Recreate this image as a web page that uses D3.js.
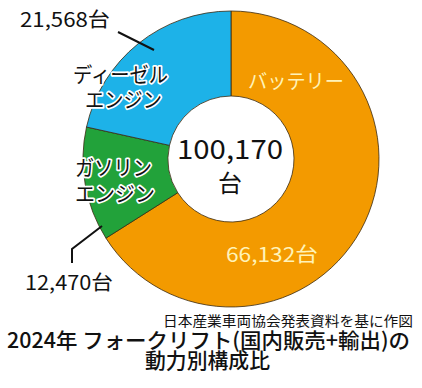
<!DOCTYPE html>
<html>
<head>
<meta charset="utf-8">
<script src="https://cdn.jsdelivr.net/npm/d3@7"></script>
<style>
  html, body { margin: 0; padding: 0; background: #fff; }
  svg { display: block; font-family: "Noto Sans CJK JP", "Noto Sans", sans-serif; }
</style>
</head>
<body>
<div id="chart"></div>
<script>
// --- DATA ---
const categories = ["バッテリー", "ガソリンエンジン", "ディーゼルエンジン"];
const values = [66132, 12470, 21568];
const total = 100170;
const colors = ["#F39A00", "#22A23A", "#1DB2E8"];

const width = 422, height = 388;
const cx = 231, cy = 159;
const outerR = 148, innerR = 63;

const svg = d3.select("#chart").append("svg").attr("width", width).attr("height", height);

// --- DONUT ---
const pie = d3.pie().sort(null).value(d => d)(values);
const arc = d3.arc().innerRadius(innerR).outerRadius(outerR);
const g = svg.append("g").attr("transform", `translate(${cx},${cy})`);
g.selectAll("path").data(pie).join("path")
    .attr("d", arc)
    .attr("fill", (d, i) => colors[i])
    .attr("stroke", "#3a2a10")
    .attr("stroke-width", 0.8);

const fmt = d3.format(",");

// text helper: fixed width text via textLength
function txt(x, y, s, size, w, opts = {}) {
    const t = svg.append("text")
        .attr("x", x).attr("y", y)
        .attr("font-size", size)
        .attr("font-weight", opts.weight || 400)
        .attr("fill", opts.fill || "#111")
        .text(s);
    if (w) t.attr("textLength", w).attr("lengthAdjust", "spacingAndGlyphs");
    if (opts.halo) {
        t.attr("stroke", "#fff").attr("stroke-width", 3.5).attr("stroke-linejoin", "round")
         .attr("paint-order", "stroke");
    }
    if (opts.anchor) t.attr("text-anchor", opts.anchor);
    return t;
}

// center total
txt(177, 159, fmt(total), 27, 106);
txt(230, 192, "台", 24, null, { anchor: "middle" });

// battery
txt(248, 89, "バッテリー", 20, 96, { fill: "#FFF3B8" });
txt(226, 262, fmt(values[0]) + "台", 20, 92, { fill: "#FFF3B8" });

// diesel
txt(73, 82, "ディーゼル", 21, 95, { halo: true });
txt(85, 107, "エンジン", 21, 77, { halo: true });
txt(20, 27, fmt(values[2]) + "台", 20, 90);

// gasoline
txt(75, 175, "ガソリン", 21, 77, { halo: true });
txt(75, 201, "エンジン", 21, 80, { halo: true });
txt(25, 290, fmt(values[1]) + "台", 20, 88);

// leader lines
const line = d3.line();
svg.append("path").attr("d", line([[118, 32], [154, 50]]))
    .attr("stroke", "#111").attr("stroke-width", 2).attr("fill", "none");
svg.append("path").attr("d", line([[72, 263], [72, 249], [102, 226]]))
    .attr("stroke", "#111").attr("stroke-width", 2).attr("fill", "none");

// source + title
txt(163, 326, "日本産業車両協会発表資料を基に作図", 14, 250);
txt(7, 348, "2024年 フォークリフト(国内販売+輸出)の", 21, 403, { weight: 500 });
txt(145, 368, "動力別構成比", 21, 125, { weight: 500 });
</script>
</body>
</html>
